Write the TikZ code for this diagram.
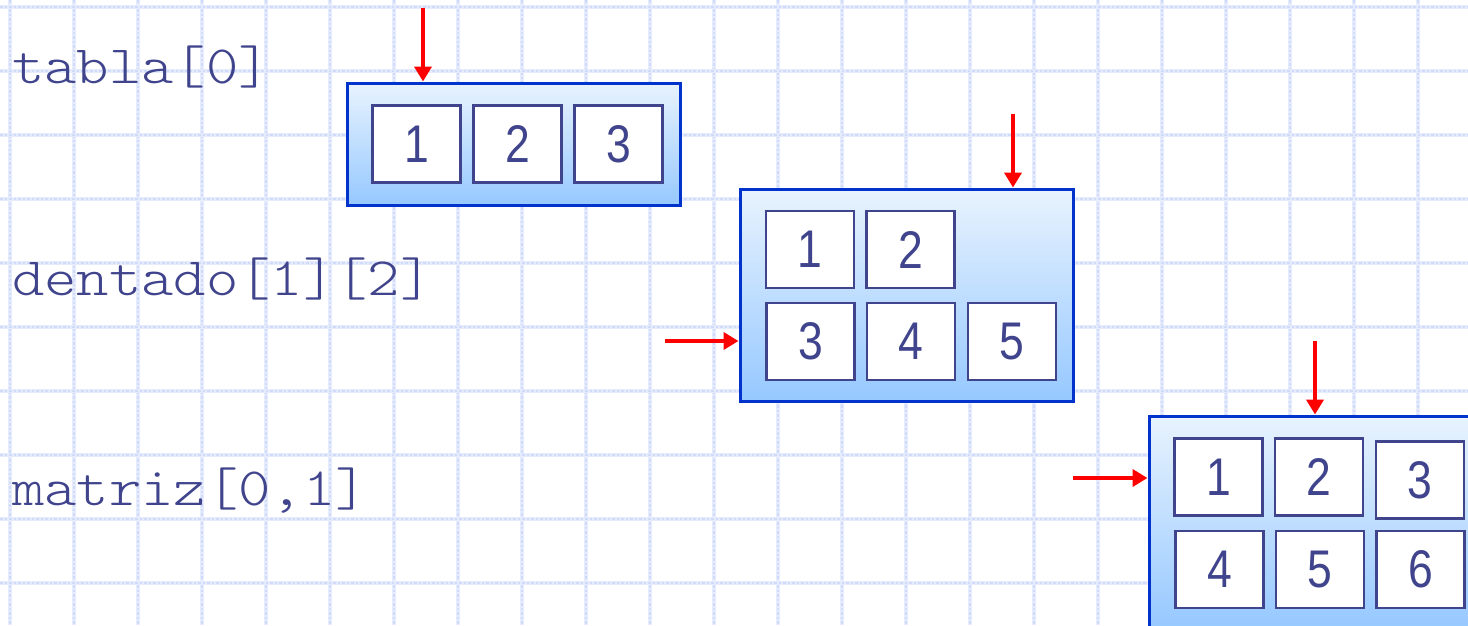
\documentclass[tikz,border=0pt]{standalone}
\usepackage{fontspec}
\setmainfont{Liberation Sans}
\usetikzlibrary{arrows.meta}
\definecolor{gridblue}{RGB}{230,236,252}
\definecolor{gridblue2}{RGB}{208,218,250}
\definecolor{inkblue}{RGB}{64,68,140}
\definecolor{frameblue}{RGB}{0,51,204}
\definecolor{shadetop}{RGB}{232,243,254}
\definecolor{shadebot}{RGB}{150,200,255}
\definecolor{arrowred}{RGB}{255,0,0}
\tikzset{
  gridline/.style={gridblue, line width=4pt},
  griddash/.style={gridblue2, line width=1.6pt, dash pattern=on 2.5pt off 2pt},
  label/.style={inner sep=0pt, anchor=base west, text=inkblue,
    font=\fontseries{l}\ttfamily\fontsize{54}{62}\selectfont},
  holder/.style={draw=frameblue, line width=3pt, inner sep=0pt,
    top color=shadetop, bottom color=shadebot},
  cell/.style={draw=inkblue, line width=2.6pt, fill=white, inner sep=0pt,
    minimum width=88pt, minimum height=77pt, text=inkblue,
    font=\fontsize{53}{60}\selectfont},
  pointer/.style={arrowred, line width=4pt,
    -{Triangle[length=15pt,width=17pt]}},
}
\newcommand{\digit}[1]{\scalebox{0.84}[1]{#1}}
\newcommand{\code}[1]{\scalebox{1.14}[1]{#1}}
\begin{document}
\begin{tikzpicture}[x=1pt,y=-1pt]
\useasboundingbox (0,0) rectangle (1468,625);
\clip (0,0) rectangle (1468,625);
% squared paper background
\foreach \gx in {0,...,22} {
  \draw[gridline] (10+64*\gx,0) -- (10+64*\gx,625);
  \draw[griddash] (10+64*\gx,0) -- (10+64*\gx,625);
}
\foreach \gy in {0,...,9} {
  \draw[gridline] (0,7+64*\gy) -- (1468,7+64*\gy);
  \draw[griddash] (0,7+64*\gy) -- (1468,7+64*\gy);
}
% expressions
\node[label] (l1) at (12,83) {\code{tabla[0]}};
\node[label] (l2) at (12,295) {\code{dentado[1][2]}};
\node[label] (l3) at (12,505) {\code{matriz[0,1]}};
% one-dimensional array
\node[holder, minimum width=333pt, minimum height=122pt] (tabla) at (513.5,144) {};
\node[cell] (t1) at (416.5,144) {\digit{1}};
\node[cell] (t2) at (517.5,144) {\digit{2}};
\node[cell] (t3) at (618.5,144) {\digit{3}};
% jagged array
\node[holder, minimum width=333pt, minimum height=212pt] (dentado) at (906.5,295) {};
\node[cell] (d1) at (810,249.5) {\digit{1}};
\node[cell] (d2) at (910.5,249.5) {\digit{2}};
\node[cell] (d3) at (810.5,341.5) {\digit{3}};
\node[cell] (d4) at (911,341.5) {\digit{4}};
\node[cell] (d5) at (1012,341.5) {\digit{5}};
% two-dimensional array
\node[holder, minimum width=333pt, minimum height=212pt] (matriz) at (1315.5,522) {};
\node[cell] (m1) at (1218.5,477) {\digit{1}};
\node[cell] (m2) at (1319,477) {\digit{2}};
\node[cell] (m3) at (1420,480) {\digit{3}};
\node[cell] (m4) at (1219.5,569.5) {\digit{4}};
\node[cell] (m5) at (1320,569.5) {\digit{5}};
\node[cell] (m6) at (1420.5,569.5) {\digit{6}};
% pointers
\coordinate (p1) at (423,8);
\coordinate (p2) at (1013,114);
\coordinate (p3) at (665,341);
\coordinate (p4) at (1315,341);
\coordinate (p5) at (1073,478);
\draw[pointer] (p1) -- (p1 |- tabla.north);
\draw[pointer] (p2) -- (p2 |- dentado.north);
\draw[pointer] (p3) -- (p3 -| dentado.west);
\draw[pointer] (p4) -- (p4 |- matriz.north);
\draw[pointer] (p5) -- (p5 -| matriz.west);
\end{tikzpicture}
\end{document}
